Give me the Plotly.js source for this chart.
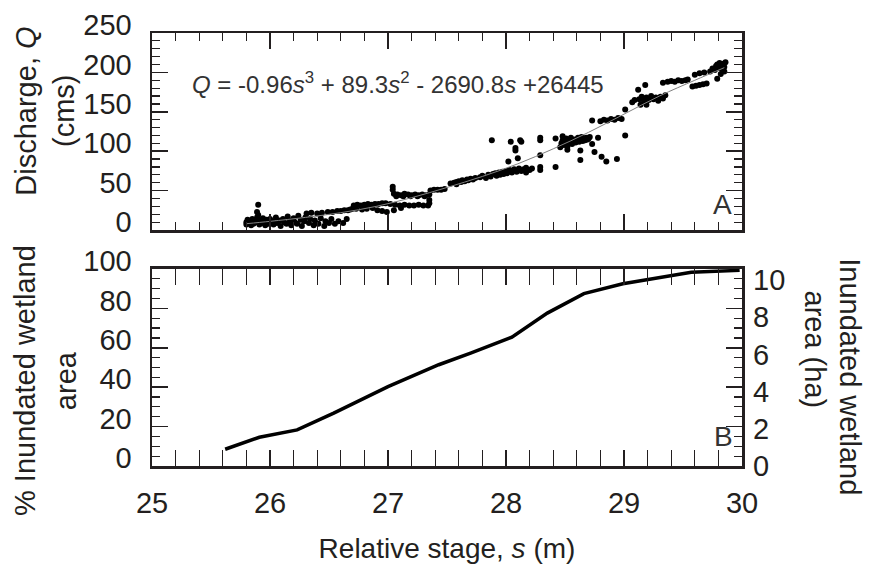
<!DOCTYPE html>
<html>
<head>
<meta charset="utf-8">
<script src="https://cdn.plot.ly/plotly-3.0.1.min.js"></script>
<style>html,body{margin:0;padding:0;background:#fff;}#chart{width:874px;height:565px;}</style>
</head>
<body>
<div id="chart"></div>
<script>
// Panel A: observed stage (m) and discharge (cms)
const stageObs = [
25.80,25.80,25.81,25.82,25.83,25.84,25.85,25.86,25.87,25.88,25.89,25.89,25.90,25.90,25.91,25.92,25.93,25.94,25.95,25.96,25.97,25.98,25.99,26.00,
26.02,26.03,26.05,26.06,26.08,26.09,26.11,26.12,26.14,26.15,26.17,26.18,26.20,26.21,26.23,26.24,26.26,26.27,26.29,26.30,
26.31,26.33,26.34,26.35,26.37,26.38,26.40,26.41,26.43,26.44,26.46,26.47,26.49,26.50,26.52,26.53,26.55,26.57,26.58,26.60,26.62,26.63,26.65,26.66,26.68,26.70,
26.71,26.74,26.77,26.80,26.83,26.86,26.89,26.92,26.95,26.98,
26.73,26.78,26.82,26.87,26.91,26.95,26.99,
27.04,27.04,
27.05,27.08,27.11,27.14,27.17,27.20,27.23,27.26,27.29,27.32,27.35,27.07,27.13,27.19,27.25,27.31,
27.02,27.06,27.10,27.14,27.18,27.22,27.26,27.30,27.34,27.35,27.35,27.11,27.05,
27.36,27.39,27.42,27.45,27.48,
27.53,27.56,27.58,27.60,27.62,27.63,27.65,27.67,27.68,27.70,27.72,27.74,27.58,
27.78,27.80,27.83,27.85,27.87,27.89,27.91,27.92,27.94,27.95,27.97,27.98,28.00,28.01,28.03,28.05,28.07,28.09,28.11,28.13,28.15,28.17,28.20,28.22,
27.88,28.04,28.12,28.13,28.08,28.08,28.02,28.10,28.16,28.17,28.29,28.29,28.29,28.29,28.29,28.42,28.42,
28.46,28.47,28.48,28.49,28.50,28.51,28.52,28.53,28.54,28.55,28.56,28.57,28.58,28.59,28.60,28.61,28.62,28.63,28.64,28.65,28.66,28.67,28.68,28.69,28.70,28.71,28.48,28.52,
28.63,28.63,28.73,28.78,28.75,28.81,28.85,28.94,29.01,28.73,
28.80,28.83,28.86,28.89,28.92,28.95,28.98,
29.01,29.07,29.09,29.12,29.18,
29.13,29.15,29.17,29.19,29.21,29.23,29.25,29.27,29.29,29.31,29.33,29.35,29.14,29.19,
29.33,29.37,29.40,29.43,29.46,29.49,29.52,29.54,
29.60,29.68,29.64,
29.58,29.61,29.64,29.67,29.70,
29.73,29.75,29.77,29.78,29.79,29.80,29.81,29.82,29.83,29.84,29.85,29.86,29.85,29.79,29.82
];
const dischargeObs = [
10,7,13,9,11,6,14,8,12,10,16,23,32,19,7,12,9,15,11,6,13,10,8,14,
11,7,16,9,12,5,14,10,8,17,12,6,15,10,8,18,13,5,11,16,
21,9,14,22,6,12,21,8,15,22,5,11,23,9,14,23,8,24,11,24,9,25,14,25,26,27,
31,32,31,32,33,32,33,33,34,34,
27,26,27,28,25,24,23,
55,51,
46,45,44,46,45,44,45,44,45,44,45,43,43,43,43,43,
33,32,31,32,31,31,32,31,31,34,38,28,25,
50,51,51,51,52,
59,60,61,62,61,63,62,64,63,65,64,66,58,
67,69,66,70,68,71,72,69,73,70,74,71,75,72,76,73,77,74,78,75,77,79,76,78,
114,112,114,112,104,101,87,91,76,73,117,114,95,80,76,80,116,
105,110,114,108,112,116,106,110,113,117,109,112,115,111,114,117,112,115,118,113,116,114,117,115,116,118,119,102,
101,89,109,117,99,93,87,90,120,139,
138,140,139,141,140,142,141,
153,162,165,178,184,
166,169,163,168,165,170,166,168,164,169,167,171,159,159,
187,188,189,188,190,189,190,191,
197,200,199,
182,183,184,185,186,
201,205,203,208,210,206,212,209,204,211,207,213,201,192,198
];
// Panel A: fitted rating curve
const fitStage = [25.80,26.00,26.30,26.60,26.90,27.20,27.50,27.80,28.10,28.40,28.70,29.00,29.30,29.60,29.85];
const fitQ     = [8,11,16,22,30,41,54,68,84,103,124,147,170,190,206];
const equationText = "<i>Q</i> = -0.96<i>s</i><sup>3</sup> + 89.3<i>s</i><sup>2</sup> - 2690.8<i>s</i> +26445";

// Panel B: percent inundated wetland area vs stage
const areaStage = [25.62,25.91,26.23,26.54,27.00,27.43,27.70,28.05,28.35,28.66,28.99,29.26,29.57,29.98];
const areaPct   = [8.5,14.6,18.3,26.8,40.3,51.4,57.3,65.4,77.6,87.5,92.5,95.4,98.3,99.3];

const xRange = [25, 30];
const qRange = [0, 250];
const pctRange = [0, 100];
const haRange = [0, 10.6];

const ink = '#231f20';
const tickFont = {family: 'Liberation Sans, Arial, sans-serif', size: 29, color: ink};
const titleFont = {family: 'Liberation Sans, Arial, sans-serif', size: 29, color: ink};

const traces = [
  {x: stageObs, y: dischargeObs, xaxis: 'x2', yaxis: 'y', type: 'scatter', mode: 'markers',
   marker: {size: 6, color: '#000'}, hoverinfo: 'x+y', showlegend: false},
  {x: fitStage, y: fitQ, xaxis: 'x2', yaxis: 'y', type: 'scatter', mode: 'lines',
   line: {color: '#808080', width: 1, shape: 'spline'}, showlegend: false},
  {x: areaStage, y: areaPct, xaxis: 'x', yaxis: 'y2', type: 'scatter', mode: 'lines',
   line: {color: '#000', width: 3.5}, showlegend: false},
  {x: [xRange[0], xRange[1]], y: [haRange[0], haRange[1]], xaxis: 'x', yaxis: 'y3',
   type: 'scatter', mode: 'markers', marker: {opacity: 0}, hoverinfo: 'skip', showlegend: false}
];

function xAx(extra) {
  return Object.assign({
    range: xRange, dtick: 1, tick0: 25, ticks: 'inside', ticklen: 16, tickwidth: 1.5, tickcolor: ink,
    minor: {dtick: 0.2, ticks: 'inside', ticklen: 8, tickwidth: 1.2, tickcolor: ink, showgrid: false},
    showline: true, linewidth: 2.5, linecolor: ink, mirror: 'allticks',
    showgrid: false, zeroline: false, tickfont: tickFont, fixedrange: true
  }, extra);
}
function yAx(extra) {
  return Object.assign({
    ticks: 'inside', ticklen: 16, tickwidth: 1.5, tickcolor: ink,
    showline: true, linewidth: 2.5, linecolor: ink, mirror: 'allticks',
    showgrid: false, zeroline: false, tickfont: tickFont, ticklabelstandoff: 12,
    ticklabelshift: -8, fixedrange: true
  }, extra);
}

const layout = {
  width: 874, height: 565,
  margin: {l: 152, r: 132, t: 33, b: 99},
  paper_bgcolor: '#fff', plot_bgcolor: '#fff',
  showlegend: false,
  xaxis: xAx({anchor: 'y2', domain: [0, 1], ticklabelstandoff: 10,
    title: {text: 'Relative stage, <i>s</i> (m)', font: {family: 'Liberation Sans, Arial, sans-serif', size: 28, color: ink}, standoff: 20}}),
  xaxis2: xAx({anchor: 'y', domain: [0, 1], matches: 'x', showticklabels: false}),
  yaxis: yAx({anchor: 'x2', domain: [0.545, 1], range: qRange, dtick: 50,
    minor: {dtick: 10, ticks: 'inside', ticklen: 8, tickwidth: 1.2, tickcolor: ink, showgrid: false}}),
  yaxis2: yAx({anchor: 'x', domain: [0, 0.455], range: pctRange, dtick: 20,
    minor: {dtick: 5, ticks: 'inside', ticklen: 8, tickwidth: 1.2, tickcolor: ink, showgrid: false}}),
  yaxis3: {overlaying: 'y2', anchor: 'x', side: 'right', range: haRange, dtick: 2, tick0: 0,
    ticks: '', showline: false, showgrid: false, zeroline: false, tickfont: tickFont,
    ticklabelstandoff: 10, fixedrange: true},
  annotations: [
    {xref: 'paper', yref: 'paper', x: 0.064, y: 0.885, text: equationText, showarrow: false,
     xanchor: 'left', yanchor: 'middle', font: {family: 'Liberation Sans, Arial, sans-serif', size: 24, color: '#333'}},
    {xref: 'paper', yref: 'paper', x: 0.967, y: 0.603, text: 'A', showarrow: false,
     xanchor: 'center', yanchor: 'middle', font: {family: 'Liberation Sans, Arial, sans-serif', size: 28, color: '#333'}},
    {xref: 'paper', yref: 'paper', x: 0.969, y: 0.067, text: 'B', showarrow: false,
     xanchor: 'center', yanchor: 'middle', font: {family: 'Liberation Sans, Arial, sans-serif', size: 28, color: '#333'}},
    {xref: 'paper', yref: 'paper', x: -0.214, y: 0.82, text: 'Discharge, <i>Q</i>', textangle: -90, showarrow: false,
     xanchor: 'center', yanchor: 'middle', font: titleFont},
    {xref: 'paper', yref: 'paper', x: -0.149, y: 0.82, text: '(cms)', textangle: -90, showarrow: false,
     xanchor: 'center', yanchor: 'middle', font: titleFont},
    {xref: 'paper', yref: 'paper', x: -0.214, y: 0.198, text: '% Inundated wetland', textangle: -90, showarrow: false,
     xanchor: 'center', yanchor: 'middle', font: titleFont},
    {xref: 'paper', yref: 'paper', x: -0.146, y: 0.198, text: 'area', textangle: -90, showarrow: false,
     xanchor: 'center', yanchor: 'middle', font: titleFont},
    {xref: 'paper', yref: 'paper', x: 1.183, y: 0.205, text: 'Inundated wetland', textangle: 90, showarrow: false,
     xanchor: 'center', yanchor: 'middle', font: titleFont},
    {xref: 'paper', yref: 'paper', x: 1.123, y: 0.27, text: 'area (ha)', textangle: 90, showarrow: false,
     xanchor: 'center', yanchor: 'middle', font: titleFont}
  ]
};

Plotly.newPlot('chart', traces, layout, {staticPlot: true, displayModeBar: false});
</script>
</body>
</html>
